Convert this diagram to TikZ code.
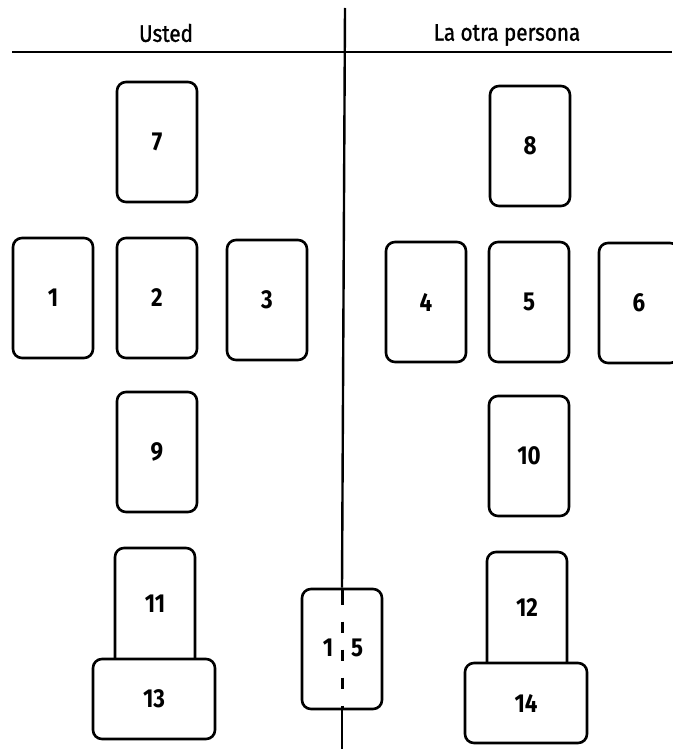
\documentclass[tikz,border=0pt]{standalone}
\usepackage{fontspec}
\setmainfont{Fira Sans}
\newfontfamily\narrowfont[FakeStretch=0.86]{Fira Sans}
\newfontfamily\headfont[FakeStretch=0.86,FakeBold=1.2]{Fira Sans}
\begin{document}
\begin{tikzpicture}[x=1pt,y=-1pt,
  numf/.style={font=\narrowfont\fontsize{26}{26}\selectfont\bfseries},
  card/.style={draw=black,line width=2.6pt,rounded corners=9pt,fill=white,minimum width=80pt,minimum height=120pt,inner sep=0pt,numf},
  wide/.style={card,minimum width=122pt,minimum height=80pt},
  rule/.style={line width=2.4pt},
  head/.style={font=\headfont\fontsize{24}{24}\selectfont}]
\useasboundingbox (0,0) rectangle (672,749);
\node[head] (usted) at (166,33) {Usted};
\node[head] (otra) at (507,35) {La otra persona};
\coordinate (hl) at (12,52);
\coordinate (hr) at (672,52);
\draw[rule] (hl) -- (hr);
\node[card] (c7) at (157,142) {7};
\node[card] (c8) at (530,146) {8};
\node[card] (c1) at (53,298) {1};
\node[card] (c2) at (157,298) {2};
\node[card] (c3) at (267,300) {3};
\node[card] (c4) at (426,302) {4};
\node[card] (c5) at (529,302) {5};
\node[card] (c6) at (639,303) {6};
\node[card] (c9) at (157,452) {9};
\node[card] (c10) at (529,456) {10};
\node[card] (c11) at (155,608) {};
\node[numf] (t11) at (155,604) {11};
\node[wide] (c13) at (154,699) {13};
\node[card] (c12) at (527,612) {};
\node[numf] (t12) at (527,608) {12};
\node[wide] (c14) at (526,703) {14};
\node[card] (c15) at (342,649) {};
\node[numf] (t15a) at (328,648) {1};
\node[numf] (t15b) at (357,648) {5};
\coordinate (vt) at (345,8);
\coordinate (vb) at (342,749);
\draw[rule] (vt) -- (c15.north);
\draw[rule,line width=3pt,dash pattern=on 11pt off 17pt] ([yshift=-6pt]c15.north) -- (c15.south);
\draw[rule] (c15.south) -- (vb);
\draw[rule,line width=3pt] ([yshift=-2pt]c15.north) -- ([yshift=-8pt]c15.north);
\end{tikzpicture}
\end{document}
